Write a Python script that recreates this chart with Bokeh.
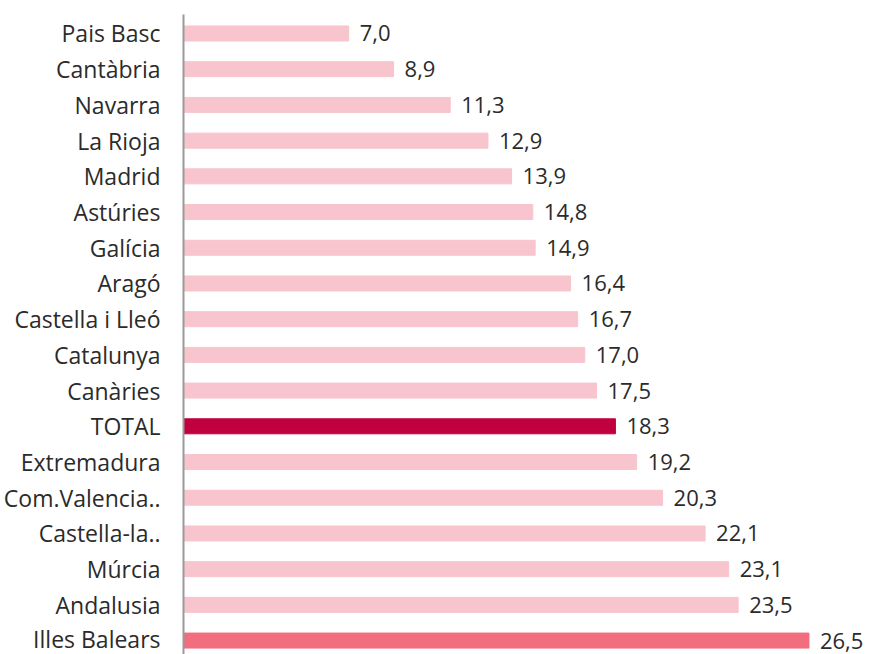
from bokeh.plotting import figure
from bokeh.models import Range1d, FixedTicker, ColumnDataSource
from bokeh.core.properties import value
from bokeh.embed import file_html
from bokeh.resources import INLINE

regions = ["Pais Basc", "Cantàbria", "Navarra", "La Rioja", "Madrid", "Astúries",
           "Galícia", "Aragó", "Castella i Lleó", "Catalunya", "Canàries", "TOTAL",
           "Extremadura", "Com.Valencia..", "Castella-la..", "Múrcia", "Andalusia",
           "Illes Balears"]
values = [7.0, 8.9, 11.3, 12.9, 13.9, 14.8, 14.9, 16.4, 16.7, 17.0, 17.5, 18.3,
          19.2, 20.3, 22.1, 23.1, 23.5, 26.5]

PINK = "#f8c4cd"
colors = []
for r in regions:
    if r == "TOTAL":
        colors.append("#c0003f")
    elif r == "Illes Balears":
        colors.append("#f26d7d")
    else:
        colors.append(PINK)

idx = list(range(len(regions)))
labels = [f"{v:.1f}".replace(".", ",") for v in values]
src = ColumnDataSource(dict(y=idx, v=values, c=colors, lab=labels))

FONT = "Open Sans"

p = figure(width=871, height=654, output_backend="svg", toolbar_location=None,
           x_range=Range1d(0, 29.15), y_range=Range1d(17.39, -0.532),
           min_border_left=183, min_border_right=0, min_border_top=14, min_border_bottom=0)

p.hbar(y="y", left=0, right="v", height=0.42, color="c", source=src)
p.text(x="v", y="y", text="lab", source=src, x_offset=11, text_align="left",
       text_baseline="middle", text_font=value(FONT), text_font_size="22px",
       text_color="#2b2b2b")

p.xaxis.visible = False
p.xgrid.visible = False
p.ygrid.visible = False
p.outline_line_color = None

ax = p.yaxis[0]
ax.ticker = FixedTicker(ticks=idx)
ax.major_label_overrides = {i: r for i, r in zip(idx, regions)}
ax.major_tick_out = 0
ax.major_tick_in = 0
ax.minor_tick_out = 0
ax.minor_tick_in = 0
ax.axis_line_color = "#999999"
ax.axis_line_width = 2
ax.major_label_standoff = 23
ax.major_label_text_font = FONT
ax.major_label_text_font_size = "23px"
ax.major_label_text_color = "#2b2b2b"

open("out.html", "w").write(file_html(p, INLINE))
